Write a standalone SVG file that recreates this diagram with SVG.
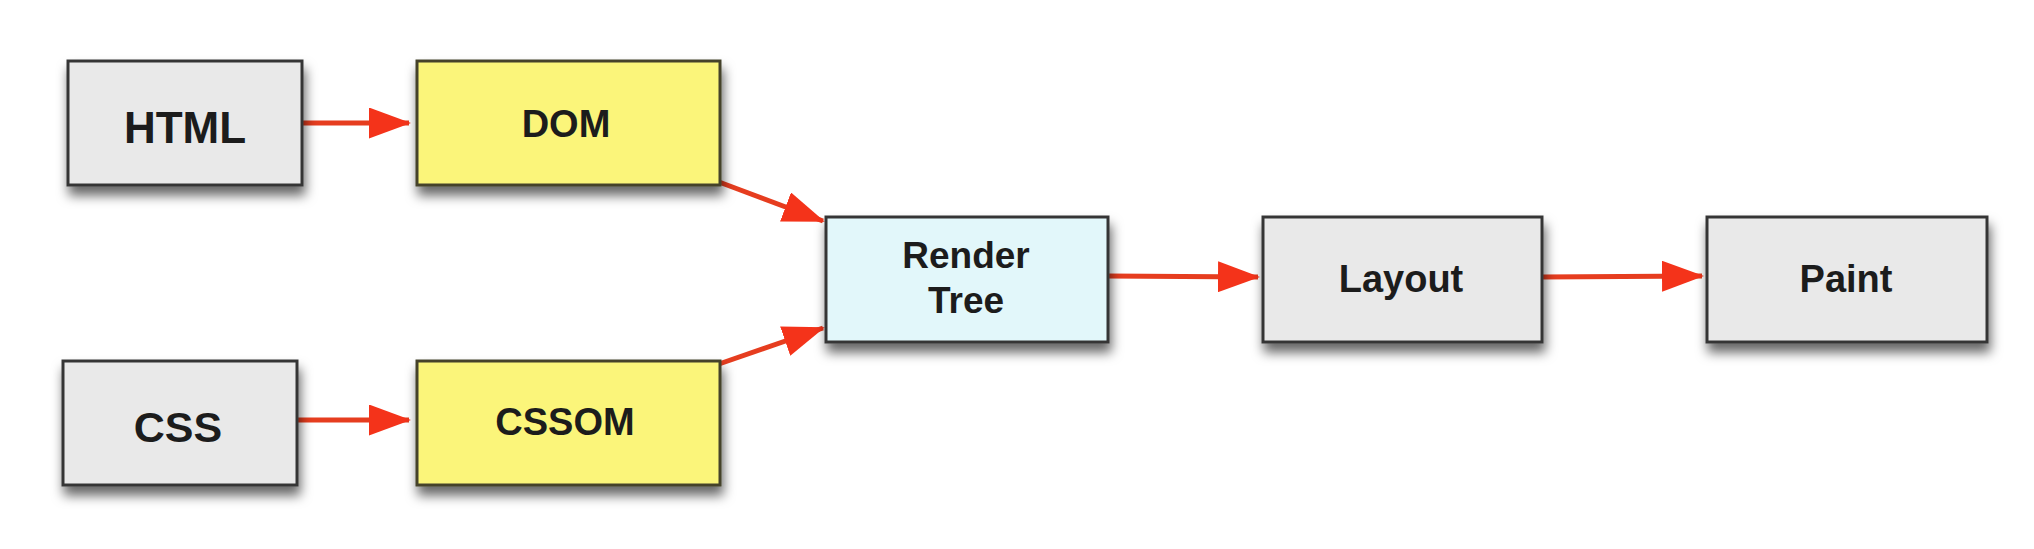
<svg xmlns="http://www.w3.org/2000/svg" width="2034" height="549" viewBox="0 0 2034 549">
  <defs>
    <filter id="shadow" x="-10%" y="-20%" width="125%" height="150%">
      <feDropShadow dx="2" dy="9" stdDeviation="6" flood-color="#000" flood-opacity="0.6"/>
    </filter>
    <marker id="arrow" viewBox="0 0 42 31" refX="40" refY="15.5" markerWidth="42" markerHeight="31" markerUnits="userSpaceOnUse" orient="auto">
      <path d="M0,0 L42,15.5 L0,31 z" fill="#f4331a"/>
    </marker>
    <style>
      .box { stroke: #363636; stroke-width: 3; filter: url(#shadow); }
      .gray { fill: #e9e9e9; }
      .yellow { fill: #fbf57a; stroke: #45432c; }
      .cyan { fill: #e2f7fa; }
      .label { font-family: "Liberation Sans", Arial, sans-serif; font-weight: bold; fill: #1c1c1c; text-anchor: middle; }
      .conn { stroke: #e63d1f; stroke-width: 5; fill: none; marker-end: url(#arrow); }
    </style>
  </defs>
  <rect width="2034" height="549" fill="#ffffff"/>

  <g id="connectors">
    <line class="conn" x1="302" y1="123" x2="409" y2="123"/>
    <line class="conn" x1="297" y1="420" x2="409" y2="420"/>
    <line class="conn" x1="719" y1="182" x2="823" y2="221"/>
    <line class="conn" x1="719" y1="364" x2="823" y2="328"/>
    <line class="conn" x1="1108" y1="276" x2="1258" y2="277"/>
    <line class="conn" x1="1542" y1="277" x2="1702" y2="276"/>
  </g>

  <g id="node-html">
    <rect class="box gray" x="68" y="61" width="234" height="124"/>
    <text class="label" x="185" y="143" font-size="44">HTML</text>
  </g>
  <g id="node-dom">
    <rect class="box yellow" x="417" y="61" width="303" height="124"/>
    <text class="label" x="566" y="137" font-size="38">DOM</text>
  </g>
  <g id="node-css">
    <rect class="box gray" x="63" y="361" width="234" height="124"/>
    <text class="label" x="178" y="442" font-size="43">CSS</text>
  </g>
  <g id="node-cssom">
    <rect class="box yellow" x="417" y="361" width="303" height="124"/>
    <text class="label" x="565" y="435" font-size="38">CSSOM</text>
  </g>
  <g id="node-render-tree">
    <rect class="box cyan" x="826" y="217" width="282" height="125"/>
    <text class="label" x="966" y="268" font-size="37">Render</text>
    <text class="label" x="966" y="313" font-size="37">Tree</text>
  </g>
  <g id="node-layout">
    <rect class="box gray" x="1263" y="217" width="279" height="125"/>
    <text class="label" x="1401" y="292" font-size="38">Layout</text>
  </g>
  <g id="node-paint">
    <rect class="box gray" x="1707" y="217" width="280" height="125"/>
    <text class="label" x="1846" y="292" font-size="38">Paint</text>
  </g>
</svg>
